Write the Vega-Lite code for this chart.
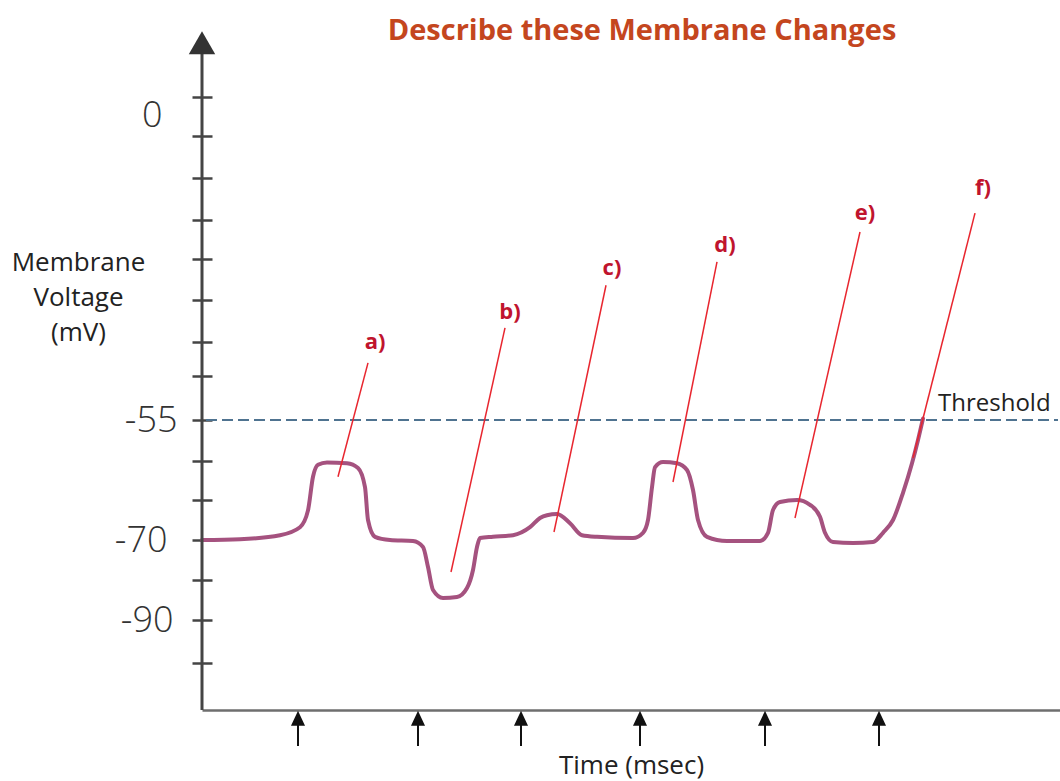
{
  "$schema": "https://vega.github.io/schema/vega-lite/v6.json",
  "width": 858,
  "height": 680,
  "autosize": "none",
  "padding": {"left": 202, "top": 30, "right": 0, "bottom": 71},
  "background": "white",
  "config": {"view": {"stroke": null}},
  "title": {
    "text": "Describe these Membrane Changes",
    "font": "Open Sans",
    "fontSize": 29,
    "fontWeight": "bold",
    "color": "#c4461e",
    "anchor": "middle",
    "frame": "group",
    "baseline": "alphabetic",
    "offset": 0,
    "dx": 11,
    "dy": 39
  },
  "datasets": {
    "trace": [
      {"t": 0, "v": -70}, {"t": 3.8, "v": -69.9}, {"t": 7.8, "v": -69.4}, {"t": 9.8, "v": -68.4},
      {"t": 10.6, "v": -66.3}, {"t": 11.1, "v": -62.1}, {"t": 11.6, "v": -60.6}, {"t": 12.5, "v": -60.3},
      {"t": 14.5, "v": -60.4}, {"t": 15.6, "v": -61}, {"t": 16.3, "v": -63.4}, {"t": 16.6, "v": -67.5},
      {"t": 17.3, "v": -69.6}, {"t": 18.8, "v": -70}, {"t": 21.1, "v": -70.25}, {"t": 22.1, "v": -71.75},
      {"t": 22.6, "v": -76.75}, {"t": 23.1, "v": -82.5}, {"t": 24.1, "v": -84.5}, {"t": 25.5, "v": -84.25},
      {"t": 26.5, "v": -82}, {"t": 27.1, "v": -77.5}, {"t": 27.5, "v": -71.75}, {"t": 27.8, "v": -69.75},
      {"t": 29.1, "v": -69.6}, {"t": 31.1, "v": -69.4}, {"t": 32.8, "v": -68.4}, {"t": 33.8, "v": -67.25},
      {"t": 34.5, "v": -66.9}, {"t": 35.5, "v": -66.75}, {"t": 36.8, "v": -67.9}, {"t": 38, "v": -69.4},
      {"t": 39.5, "v": -69.6}, {"t": 43.1, "v": -69.75}, {"t": 44.1, "v": -69.1}, {"t": 44.6, "v": -67.5},
      {"t": 45, "v": -63.4}, {"t": 45.3, "v": -60.9}, {"t": 46.1, "v": -60.25}, {"t": 47.5, "v": -60.4},
      {"t": 48.5, "v": -61.25}, {"t": 49.1, "v": -63.75}, {"t": 49.6, "v": -67.5}, {"t": 50.5, "v": -69.6},
      {"t": 52.5, "v": -70.25}, {"t": 55.8, "v": -70.25}, {"t": 56.6, "v": -69.1}, {"t": 57.1, "v": -66.25},
      {"t": 57.8, "v": -65.25}, {"t": 59.5, "v": -65}, {"t": 60.8, "v": -65.6}, {"t": 61.8, "v": -67.1},
      {"t": 62.3, "v": -69.1}, {"t": 63.1, "v": -70.5}, {"t": 65.1, "v": -70.75}, {"t": 67.1, "v": -70.5},
      {"t": 68.1, "v": -69.1}, {"t": 69.1, "v": -67.5}, {"t": 70.1, "v": -64.1}, {"t": 71, "v": -60.4},
      {"t": 71.6, "v": -57.5}, {"t": 72.1, "v": -54.75}
    ],
    "leaders": [
      {"label": "a)", "t": 16.6, "v": -44.7, "t2": 13.6, "v2": -62.1},
      {"label": "b)", "t": 30.3, "v": -38.4, "t2": 24.9, "v2": -78},
      {"label": "c)", "t": 40.4, "v": -30.7, "t2": 35.2, "v2": -69},
      {"label": "d)", "t": 51.5, "v": -26.5, "t2": 47.1, "v2": -62.75},
      {"label": "e)", "t": 65.8, "v": -21.1, "t2": 59.3, "v2": -67.25},
      {"label": "f)", "t": 77.3, "v": -17.7, "t2": 71.1, "v2": -59.75}
    ],
    "labels": [
      {"label": "a)", "t": 17.3, "v": -40.9},
      {"label": "b)", "t": 30.8, "v": -35.5},
      {"label": "c)", "t": 41.0, "v": -27.6},
      {"label": "d)", "t": 52.3, "v": -23.4},
      {"label": "e)", "t": 66.3, "v": -17.7},
      {"label": "f)", "t": 78.1, "v": -13.2}
    ],
    "threshold": [
      {"label": "Threshold", "t": 0.4, "t2": 85.6, "v": -55, "tt": 73.6, "tv": -52.1}
    ],
    "yaxisline": [
      {"t": 0, "v": -112.5, "v2": 14}
    ],
    "yaxishead": [
      {"t": 0, "v": 13}
    ],
    "stimuli": [
      {"t": 9.6, "v": -117.4}, {"t": 21.6, "v": -117.4}, {"t": 31.9, "v": -117.4},
      {"t": 43.8, "v": -117.4}, {"t": 56.3, "v": -117.4}, {"t": 67.7, "v": -117.4}
    ]
  },
  "encoding": {
    "x": {
      "field": "t",
      "type": "quantitative",
      "scale": {"domain": [0, 85.8], "nice": false, "zero": false},
      "axis": {
        "domain": true,
        "domainColor": "#6e6e6e",
        "domainWidth": 2.5,
        "ticks": false,
        "labels": false,
        "grid": false,
        "title": "Time (msec)",
        "titleFont": "Open Sans",
        "titleFontSize": 26,
        "titleFontWeight": "normal",
        "titleColor": "#222222",
        "titlePadding": 42
      }
    },
    "y": {
      "field": "v",
      "type": "quantitative",
      "scale": {
        "type": "linear",
        "domain": [-112.5, -90, -70, -55, 0, 15.3],
        "range": [680, 590, 510, 390, 85, 0],
        "nice": false,
        "zero": false
      },
      "axis": {
        "values": [3.25, 0, -3.8, -11.4, -18.9, -26, -33.4, -40.9, -47.1, -55, -60.1, -65, -70, -80, -90, -100.75],
        "offset": -10,
        "domain": false,
        "grid": false,
        "tickSize": 20,
        "tickWidth": 2.5,
        "tickColor": "#444444",
        "tickOpacity": {"condition": {"test": "datum.value == 0", "value": 0}, "value": 1},
        "labelExpr": "datum.value == 0 ? '0' : datum.value == -55 ? '-55' : datum.value == -70 ? '-70' : datum.value == -90 ? '-90' : ''",
        "labelFont": "Open Sans",
        "labelFontSize": 36,
        "labelFontWeight": 300,
        "labelColor": "#333333",
        "labelPadding": {
          "condition": [
            {"test": "datum.value == 0", "value": 30},
            {"test": "datum.value == -55", "value": 15},
            {"test": "datum.value == -70", "value": 25}
          ],
          "value": 19
        },
        "labelOverlap": false,
        "title": ["Membrane", "Voltage", "(mV)"],
        "titleAngle": 0,
        "titleAlign": "center",
        "titleBaseline": "middle",
        "titleX": -134,
        "titleY": 232,
        "titleFont": "Open Sans",
        "titleFontSize": 26,
        "titleFontWeight": "normal",
        "titleColor": "#222222",
        "titleLineHeight": 35
      }
    }
  },
  "layer": [
    {
      "data": {"name": "threshold"},
      "mark": {"type": "rule", "color": "#4f7390", "strokeWidth": 2, "strokeDash": [11, 5]},
      "encoding": {"x2": {"field": "t2"}}
    },
    {
      "data": {"name": "threshold"},
      "mark": {"type": "text", "align": "left", "baseline": "middle", "font": "Open Sans", "fontSize": 24, "color": "#222222"},
      "encoding": {
        "x": {"field": "tt", "type": "quantitative"},
        "y": {"field": "tv", "type": "quantitative"},
        "text": {"field": "label"}
      }
    },
    {
      "data": {"name": "trace"},
      "mark": {"type": "line", "color": "#a5527f", "strokeWidth": 4, "interpolate": "monotone", "strokeCap": "round"}
    },
    {
      "data": {"name": "leaders"},
      "mark": {"type": "rule", "color": "#e8262f", "strokeWidth": 1.5},
      "encoding": {"x2": {"field": "t2"}, "y2": {"field": "v2"}}
    },
    {
      "data": {"name": "labels"},
      "mark": {"type": "text", "align": "center", "baseline": "middle", "font": "Open Sans", "fontSize": 22, "fontWeight": "bold", "color": "#c0142e"},
      "encoding": {"text": {"field": "label"}}
    },
    {
      "data": {"name": "yaxisline"},
      "mark": {"type": "rule", "color": "#444444", "strokeWidth": 3},
      "encoding": {"y2": {"field": "v2"}}
    },
    {
      "data": {"name": "yaxishead"},
      "mark": {"type": "point", "shape": "triangle-up", "filled": true, "color": "#333333", "size": 700, "opacity": 1}
    },
    {
      "data": {"name": "stimuli"},
      "mark": {
        "type": "point",
        "shape": "M0,-1L-0.33,-0.3L0.33,-0.3Z M0,-0.3L0,1",
        "filled": true,
        "fill": "#111111",
        "stroke": "#111111",
        "strokeWidth": 2,
        "size": 1089,
        "opacity": 1
      }
    }
  ]
}
